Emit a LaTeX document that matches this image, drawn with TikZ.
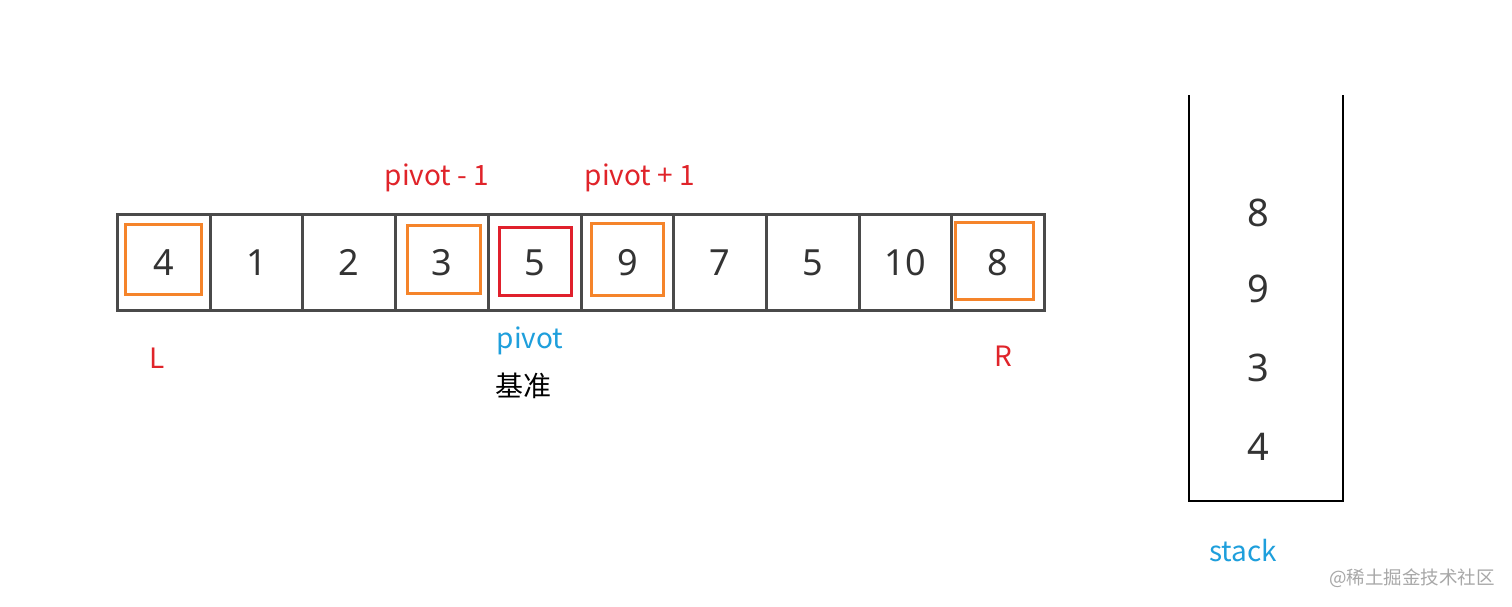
\documentclass[tikz,border=0pt]{standalone}
\usepackage{fontspec}
\setmainfont{Noto Sans}
\newfontfamily\cjk{Noto Sans CJK SC}
\newfontfamily\digfont{Noto Sans}
\definecolor{lblred}{HTML}{E0242A}
\definecolor{lblblue}{HTML}{1E9FDC}
\definecolor{boxorange}{HTML}{F5842A}
\definecolor{boxred}{HTML}{E0202C}
\definecolor{cellgray}{HTML}{4A4A4A}
\definecolor{digitgray}{HTML}{333333}
\definecolor{wmgray}{HTML}{A8A8A8}
\begin{document}
\begin{tikzpicture}[x=1pt,y=-1pt,
  cellbox/.style={draw=cellgray,line width=3pt,minimum width=92.7pt,minimum height=96pt,inner sep=0pt,anchor=north west},
  hilite/.style={draw=#1,line width=3pt,minimum width=76pt,minimum height=70pt,inner sep=0pt},
  lbl/.style={font=\cjk\fontsize{28}{32}\selectfont,inner sep=0pt},
  stackdigit/.style={font=\digfont\fontsize{38}{42}\selectfont,text=digitgray,inner sep=0pt}]
\useasboundingbox (0,0) rectangle (1512,606);
\fill[white] (0,0) rectangle (1512,606);
% array cells
\foreach \v [count=\i from 0] in {4,1,2,3,5,9,7,5,10,8}{
  \node[cellbox] (c\i) at ({116+\i*92.7},213) {};
}
% highlight boxes
\node[hilite=boxorange] (h0) at (163,259.5) {};
\node[hilite=boxorange,minimum width=73pt,minimum height=68pt] (h3) at (443.5,259) {};
\node[hilite=boxred,minimum width=72pt,minimum height=68pt] (h4) at (535,261) {};
\node[hilite=boxorange,minimum width=72pt,minimum height=72pt] (h5) at (627,259) {};
\node[hilite=boxorange,minimum width=78pt,minimum height=77pt] (h9) at (994,260.5) {};
% digits
\foreach \v [count=\i from 0] in {4,1,2,3,5,9,7,5,10,8}{
  \node[stackdigit,font=\digfont\fontsize{36}{40}\selectfont] (d\i) at (c\i.center) {\v};
}
% labels
\node[lbl,text=lblred] (pm) at (437,178) {pivot - 1};
\node[lbl,text=lblred] (pp) at (640,178) {pivot + 1};
\node[lbl,text=lblred] (L) at (157,358) {L};
\node[lbl,text=lblred] (R) at (1003,356) {R};
\node[lbl,text=lblblue] (pv) at (530,341) {pivot};
\node[lbl,text=black] (jz) at (523,386) {基准};
% stack
\coordinate (stl) at (1189,95);
\coordinate (sbl) at (1189,501);
\coordinate (sbr) at (1343,501);
\coordinate (str) at (1343,95);
\draw[black,line width=2.2pt] (stl) -- (sbl) -- (sbr) -- (str);
\node[stackdigit] (s8) at (1258,213) {8};
\node[stackdigit] (s9) at (1258,289) {9};
\node[stackdigit] (s3) at (1258,368) {3};
\node[stackdigit] (s4) at (1258,447) {4};
\node[lbl,text=lblblue] (st) at (1243,551) {stack};
\node[font=\cjk\fontsize{18.5}{22}\selectfont,text=wmgray,inner sep=0pt] (wm) at (1412,578) {@稀土掘金技术社区};
\end{tikzpicture}
\end{document}
